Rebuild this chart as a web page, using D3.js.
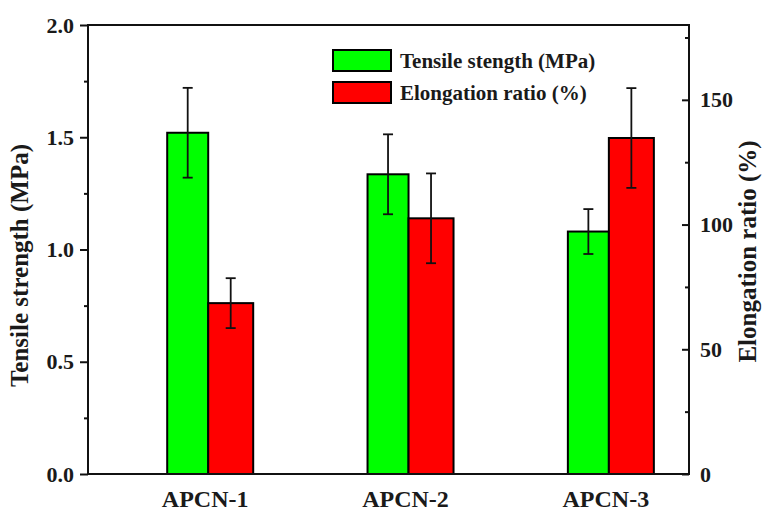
<!DOCTYPE html>
<html>
<head>
<meta charset="utf-8">
<script src="https://cdn.jsdelivr.net/npm/d3@7"></script>
<style>
  html, body { margin: 0; padding: 0; background: #fff; }
  svg { display: block; }
  text { font-family: "Liberation Serif", "Times New Roman", serif; font-weight: bold; fill: #1a1a1a; }
</style>
</head>
<body>
<svg id="chart" width="765" height="514"></svg>
<script>
// Samples
const categories = ["APCN-1", "APCN-2", "APCN-3"];
// Tensile strength (MPa), left axis
const tensile = [1.52, 1.335, 1.08];
const tensileErr = [0.20, 0.178, 0.10];
// Elongation ratio (%), right axis
const elongation = [68.5, 102.5, 134.7];
const elongationErr = [10, 18, 20];

const leftTicks = [0.0, 0.5, 1.0, 1.5, 2.0];
const leftMinor = [0.25, 0.75, 1.25, 1.75];
const rightTicks = [0, 50, 100, 150];
const rightMinor = [25, 75, 125, 175];

const seriesNames = ["Tensile stength (MPa)", "Elongation ratio (%)"];
const colors = ["#00ff00", "#ff0000"];

const svg = d3.select("#chart");
const plot = { left: 88, right: 689, top: 25, bottom: 474 };

const x = d3.scaleLinear().domain([-0.6, 2.4]).range([plot.left, plot.right]);
const yL = d3.scaleLinear().domain([0, 2]).range([plot.bottom, plot.top]);
const yR = d3.scaleLinear().domain([0, 180]).range([plot.bottom, plot.top]);

const greenW = 41, redW = 45, capW = 10;

// Bars
const g = svg.append("g");
g.selectAll("rect.ts").data(categories).join("rect")
  .attr("class", "ts")
  .attr("x", (d, i) => x(i) - greenW)
  .attr("y", (d, i) => yL(tensile[i]))
  .attr("width", greenW)
  .attr("height", (d, i) => yL(0) - yL(tensile[i]))
  .attr("fill", colors[0]).attr("stroke", "#000").attr("stroke-width", 2);

g.selectAll("rect.el").data(categories).join("rect")
  .attr("class", "el")
  .attr("x", (d, i) => x(i))
  .attr("y", (d, i) => yR(elongation[i]))
  .attr("width", redW)
  .attr("height", (d, i) => yR(0) - yR(elongation[i]))
  .attr("fill", colors[1]).attr("stroke", "#000").attr("stroke-width", 2);

// Error bars
function errorBars(cls, vals, errs, yScale, cxFn) {
  const eg = g.selectAll("g." + cls).data(categories).join("g").attr("class", cls)
    .attr("stroke", "#111").attr("stroke-width", 1.8);
  eg.append("line")
    .attr("x1", (d, i) => cxFn(i)).attr("x2", (d, i) => cxFn(i))
    .attr("y1", (d, i) => yScale(vals[i] + errs[i])).attr("y2", (d, i) => yScale(vals[i] - errs[i]));
  eg.append("line")
    .attr("x1", (d, i) => cxFn(i) - capW / 2).attr("x2", (d, i) => cxFn(i) + capW / 2)
    .attr("y1", (d, i) => yScale(vals[i] + errs[i])).attr("y2", (d, i) => yScale(vals[i] + errs[i]));
  eg.append("line")
    .attr("x1", (d, i) => cxFn(i) - capW / 2).attr("x2", (d, i) => cxFn(i) + capW / 2)
    .attr("y1", (d, i) => yScale(vals[i] - errs[i])).attr("y2", (d, i) => yScale(vals[i] - errs[i]));
}
errorBars("ets", tensile, tensileErr, yL, i => x(i) - greenW / 2);
errorBars("eel", elongation, elongationErr, yR, i => x(i) + redW / 2);

// Frame
svg.append("rect")
  .attr("x", plot.left).attr("y", plot.top)
  .attr("width", plot.right - plot.left).attr("height", plot.bottom - plot.top)
  .attr("fill", "none").attr("stroke", "#111").attr("stroke-width", 2);

// Left axis (ticks outward)
svg.append("g").attr("transform", `translate(${plot.left},0)`)
  .call(d3.axisLeft(yL).tickValues(leftTicks).tickFormat(d3.format(".1f")).tickSize(8).tickPadding(6));
svg.append("g").attr("transform", `translate(${plot.left},0)`)
  .call(d3.axisLeft(yL).tickValues(leftMinor).tickFormat("").tickSize(4));

// Right axis (ticks inward)
svg.append("g").attr("transform", `translate(${plot.right},0)`)
  .call(d3.axisRight(yR).tickValues(rightTicks).tickFormat(d3.format("d")).tickSize(-7).tickPadding(11));
svg.append("g").attr("transform", `translate(${plot.right},0)`)
  .call(d3.axisRight(yR).tickValues(rightMinor).tickFormat("").tickSize(-4));

svg.selectAll(".domain").remove();
svg.selectAll(".tick line").attr("stroke", "#111").attr("stroke-width", 2);
svg.selectAll(".tick text").style("font-size", "22px").style("font-family", '"Liberation Serif", serif')
  .style("font-weight", "bold").attr("fill", "#1a1a1a");

// Category labels
svg.selectAll("text.cat").data(categories).join("text")
  .attr("class", "cat")
  .attr("x", (d, i) => x(i) - 3)
  .attr("y", 507)
  .attr("text-anchor", "middle")
  .style("font-size", "24px")
  .text(d => d);

// Axis titles
svg.append("text")
  .attr("transform", `translate(28,${(plot.top + plot.bottom) / 2 + 16}) rotate(-90)`)
  .attr("text-anchor", "middle")
  .style("font-size", "25px")
  .text("Tensile strength (MPa)");

svg.append("text")
  .attr("transform", `translate(756,${(plot.top + plot.bottom) / 2 + 2}) rotate(-90)`)
  .attr("text-anchor", "middle")
  .style("font-size", "25px")
  .text("Elongation ratio (%)");

// Legend
const lg = svg.append("g").attr("transform", "translate(333,50)");
seriesNames.forEach((name, i) => {
  lg.append("rect").attr("x", 0).attr("y", i * 32).attr("width", 58).attr("height", 21)
    .attr("fill", colors[i]).attr("stroke", "#000").attr("stroke-width", 2);
  lg.append("text").attr("x", 67).attr("y", i * 32 + 18).style("font-size", "21px").text(name);
});
</script>
</body>
</html>
